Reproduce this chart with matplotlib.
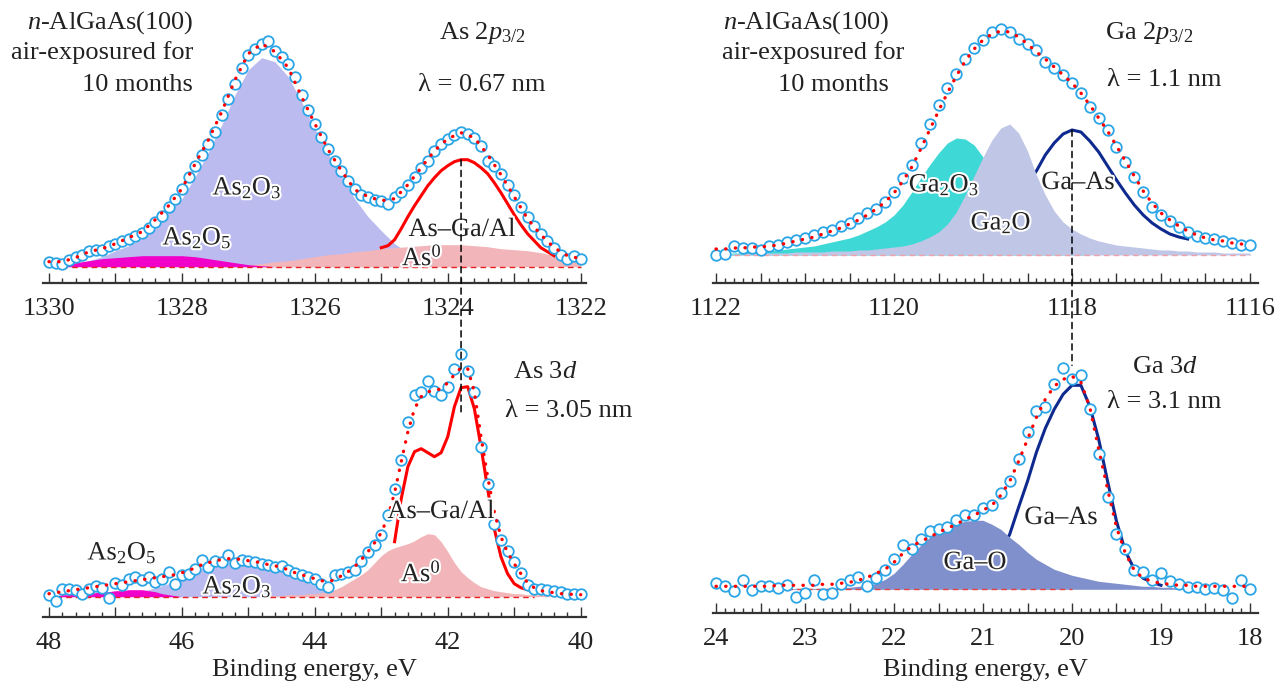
import numpy as np
import matplotlib
matplotlib.use('Agg')
import matplotlib.pyplot as plt
import matplotlib.patheffects as pe
from matplotlib.ticker import MultipleLocator, FuncFormatter
from matplotlib.patches import ConnectionPatch

plt.rcParams['font.family'] = ['Liberation Serif', 'DejaVu Serif']
plt.rcParams['mathtext.fontset'] = 'custom'
plt.rcParams['mathtext.rm'] = 'Liberation Serif'
plt.rcParams['mathtext.it'] = 'Liberation Serif:italic'
plt.rcParams['mathtext.bf'] = 'Liberation Serif:bold'


def grid(a, b, step):
    # descending energy grid, both ends included
    return np.round(np.arange(a, b - step / 2, -step), 2)


# ---------------- As 2p3/2 (top left), intensities in a.u. above background
e_as2p = grid(1330.0, 1322.0, 0.1)
as2p_exp = [5, 4, 3, 7, 10, 12, 16, 17, 17, 21,
            23, 26, 28, 31, 34, 39, 45, 51, 60, 68,
            78, 90, 101, 112, 123, 135, 152, 168, 183, 199,
            212, 218, 223, 226, 216, 210, 203, 190, 172, 157,
            143, 130, 118, 106, 96, 86, 78, 72, 70, 67,
            66, 63, 70, 75, 82, 90, 99, 106, 116, 123,
            128, 132, 135, 133, 129, 121, 106, 101, 93, 82,
            72, 60, 50, 41, 33, 26, 19, 12, 8, 11,
            8]
e_as2p_c = grid(1330.0, 1322.0, 0.2)
as2p_fit = [5, 5, 9, 15, 18, 23, 29, 35, 47, 61,
            78, 103, 127, 155, 187, 213, 223, 215, 199, 170,
            143, 117, 96, 77, 70, 66, 68, 82, 99, 116,
            128, 134, 129, 112, 92, 70, 48, 32, 19, 11,
            8]
as2p_as2o3 = [0, 1, 3, 6, 10, 16, 21, 28, 38, 55,
              68, 90, 115, 142, 172, 197, 209, 205, 190, 165,
              138, 113, 90, 68, 50, 36, 23, 14, 8, 4,
              2, 1, 0, 0, 0, 0, 0, 0, 0, 0,
              0]
as2p_as2o5 = [0, 2, 4, 6, 8, 9, 10, 11, 11, 11,
              11, 10, 8, 6, 4, 2, 1, 0, 0, 0,
              0, 0, 0, 0, 0, 0, 0, 0, 0, 0,
              0, 0, 0, 0, 0, 0, 0, 0, 0, 0,
              0]
as2p_as0 = [0, 0, 0, 0, 0, 0, 0, 0, 0, 0,
            0, 0, 0, 0, 1, 2, 3, 5, 6, 8,
            10, 12, 13, 15, 16, 18, 19, 20, 21, 22,
            22, 22, 21, 20, 18, 17, 16, 14, 11, 7,
            4]
e_as2p_asga = grid(1325.0, 1322.4, 0.1)
as2p_asga = [19, 21, 27, 38, 50, 61, 71, 81, 89, 96,
             101, 105, 107, 107, 104, 99, 93, 84, 74, 63,
             52, 42, 33, 26, 19, 15, 11]

# ---------------- As 3d (bottom left)
e_as3d = grid(48.0, 40.0, 0.1)
as3d_exp = [2, -4, 8, 8, 7, 3, 8, 11, 9, -1,
            14, 12, 18, 20, 17, 20, 15, 18, 25, 13,
            22, 23, 28, 37, 30, 36, 35, 42, 34, 37,
            36, 35, 33, 32, 30, 31, 27, 24, 22, 20,
            18, 13, 10, 22, 23, 25, 27, 36, 45, 52,
            62, 82, 108, 137, 175, 202, 205, 216, 206, 202,
            210, 228, 243, 226, 205, 150, 113, 73, 57, 46,
            35, 24, 12, 8, 8, 7, 6, 5, 3, 3,
            3]
as3d_fit = [3, 4, 5, 6, 7, 8, 9, 10, 11, 12,
            13, 14, 15, 16, 17, 18, 19, 20, 21, 22,
            24, 26, 29, 32, 34, 36, 37, 38, 38, 37,
            36, 35, 34, 32, 31, 29, 27, 24, 22, 20,
            18, 16, 15, 17, 21, 25, 30, 37, 45, 54,
            64, 80, 104, 135, 165, 188, 200, 205, 206, 208,
            214, 222, 229, 228, 205, 160, 120, 85, 60, 44,
            33, 23, 14, 9, 6, 5, 4, 3, 3, 2,
            2]
as3d_as2o3 = [0, 0, 1, 1, 1, 1, 2, 2, 2, 3,
              3, 4, 4, 5, 6, 7, 9, 11, 13, 16,
              19, 22, 25, 28, 30, 32, 33, 34, 34, 34,
              33, 32, 31, 29, 27, 25, 22, 20, 17, 14,
              11, 8, 6, 4, 3, 2, 1, 1, 0, 0,
              0, 0, 0, 0, 0, 0, 0, 0, 0, 0,
              0, 0, 0, 0, 0, 0, 0, 0, 0, 0,
              0, 0, 0, 0, 0, 0, 0, 0, 0, 0,
              0]
as3d_as2o5 = [0, 1, 2, 2, 3, 3, 4, 4, 5, 5,
              6, 6, 7, 7, 7, 6, 5, 3, 2, 1,
              0, 0, 0, 0, 0, 0, 0, 0, 0, 0,
              0, 0, 0, 0, 0, 0, 0, 0, 0, 0,
              0, 0, 0, 0, 0, 0, 0, 0, 0, 0,
              0, 0, 0, 0, 0, 0, 0, 0, 0, 0,
              0, 0, 0, 0, 0, 0, 0, 0, 0, 0,
              0, 0, 0, 0, 0, 0, 0, 0, 0, 0,
              0]
as3d_as0 = [0, 0, 0, 0, 0, 0, 0, 0, 0, 0,
            0, 0, 0, 0, 0, 0, 0, 0, 0, 0,
            0, 0, 0, 0, 0, 0, 0, 0, 0, 0,
            0, 0, 0, 1, 1, 1, 2, 2, 2, 3,
            3, 4, 5, 7, 10, 14, 18, 22, 27, 34,
            41, 46, 49, 51, 53, 56, 60, 63, 62, 55,
            45, 34, 25, 19, 14, 10, 8, 6, 5, 4,
            3, 3, 2, 2, 2, 1, 1, 1, 1, 1,
            1]
e_as3d_asga = grid(42.8, 40.8, 0.1)
as3d_asga = [55, 98, 130, 145, 148, 144, 140, 144, 160, 190,
             209, 210, 188, 150, 108, 68, 40, 23, 13, 9,
             7]

# ---------------- Ga 2p3/2 (top right)
e_ga2p = grid(1122.0, 1116.0, 0.1)
ga2p_exp = [0, 1, 9, 7, 7, 5, 9, 10, 13, 15,
            17, 20, 23, 25, 29, 32, 37, 42, 46, 53,
            63, 77, 90, 112, 131, 150, 167, 181, 196, 207,
            215, 223, 226, 223, 216, 211, 205, 193, 187, 180,
            172, 162, 148, 137, 125, 108, 93, 78, 63, 48,
            40, 34, 28, 23, 19, 17, 16, 14, 12, 10,
            10]
ga2p_fit = [6, 6, 7, 7, 8, 8, 9, 10, 12, 14,
            16, 18, 21, 24, 27, 31, 35, 40, 46, 53,
            62, 74, 88, 106, 125, 144, 162, 179, 194, 206,
            215, 221, 224, 223, 218, 211, 203, 196, 188, 180,
            172, 162, 150, 137, 124, 109, 94, 79, 64, 52,
            42, 35, 29, 24, 20, 17, 15, 14, 12, 11,
            10]
ga2p_ga2o3 = [1, 1, 2, 2, 3, 3, 4, 5, 6, 7,
              8, 9, 11, 13, 15, 17, 20, 24, 28, 33,
              40, 50, 63, 77, 90, 102, 112, 117, 116, 110,
              98, 84, 68, 52, 38, 26, 17, 10, 6, 3,
              2, 1, 0, 0, 0, 0, 0, 0, 0, 0,
              0, 0, 0, 0, 0, 0, 0, 0, 0, 0,
              0]
ga2p_ga2o = [1, 1, 1, 1, 2, 2, 2, 2, 2, 3,
             3, 3, 3, 4, 4, 4, 5, 5, 6, 7,
             8, 9, 11, 14, 18, 23, 31, 43, 60, 79,
             98, 115, 127, 131, 122, 104, 80, 60, 44, 33,
             26, 21, 17, 14, 12, 10, 9, 8, 7, 6,
             5, 5, 4, 4, 3, 3, 3, 2, 2, 2,
             2]
e_ga2p_gaas = grid(1118.6, 1116.7, 0.1)
ga2p_gaas = [60, 72, 84, 100, 112, 121, 125, 123, 114, 103,
             89, 75, 62, 50, 40, 32, 26, 21, 18, 16]

# ---------------- Ga 3d (bottom right)
e_ga3d = grid(24.0, 18.0, 0.1)
ga3d_exp = [6, 3, -2, 9, -1, 3, 3, 1, 4, -8,
            -4, 9, -5, -4, 5, 9, 12, 3, 11, 19,
            30, 44, 40, 50, 58, 60, 62, 69, 74, 74,
            81, 84, 96, 108, 130, 157, 178, 182, 205, 221,
            210, 214, 180, 135, 92, 55, 40, 19, 17, 9,
            16, 8, 5, 2, 2, 0, 1, -1, -9, 9,
            0]
ga3d_fit = [3, 3, 3, 3, 3, 3, 3, 4, 4, 4,
            4, 4, 5, 5, 6, 7, 9, 12, 16, 20,
            27, 36, 43, 48, 52, 57, 61, 65, 70, 74,
            79, 84, 94, 108, 128, 150, 172, 190, 203, 210,
            213, 207, 182, 140, 100, 62, 36, 19, 11, 8,
            6, 5, 4, 4, 3, 3, 3, 3, 3, 3,
            3]
ga3d_gao = [0, 0, 0, 0, 0, 0, 0, 0, 0, 1,
            1, 1, 1, 1, 2, 2, 3, 4, 6, 10,
            16, 25, 35, 44, 52, 58, 63, 66, 68, 69,
            69, 65, 60, 52, 45, 37, 30, 25, 20, 17,
            14, 12, 10, 8, 7, 6, 5, 4, 3, 3,
            2, 2, 1, 0, 0, 0, 0, 0, 0, 0,
            0]
e_ga3d_gaas = grid(21.0, 19.0, 0.1)
ga3d_gaas = [20, 28, 38, 55, 82, 108, 137, 161, 180, 195,
             204, 204, 183, 150, 108, 68, 38, 20, 11, 7,
             4]

# ---------------- colours
C_EXP = '#2ba5e6'
C_AS2O3 = '#bbbbf0'
C_AS2O5 = '#f000c8'
C_AS0 = '#f2b5b9'
C_GA2O3 = '#3ed8d6'
C_GA2O = '#c0c7e6'
C_GAO = '#8090cc'
C_NAVY = '#0f2a8e'
C_TXT = '#222222'

W, H = 1286, 686
fig = plt.figure(figsize=(W / 100, H / 100), dpi=100)


def make_axes(left, right, top, spine, base, xlim, major, minor, every):
    ax = fig.add_axes([left / W, 1 - spine / H, (right - left) / W, (spine - top) / H])
    ax.set_ylim(-(spine - base), base - top)
    ax.set_xlim(*xlim)
    ax.patch.set_alpha(0)
    for s in ['left', 'right', 'top']:
        ax.spines[s].set_visible(False)
    ax.spines['bottom'].set_linewidth(1.6)
    ax.spines['bottom'].set_color('#333333')
    ax.yaxis.set_visible(False)
    ax.xaxis.set_major_locator(MultipleLocator(major))
    ax.xaxis.set_minor_locator(MultipleLocator(minor))
    ax.xaxis.set_major_formatter(FuncFormatter(
        lambda v, p: f'{v:.0f}' if abs(v / every - round(v / every)) < 1e-6 else ''))
    ax.tick_params(axis='x', which='both', direction='in', color='#333333',
                   width=1.0, labelsize=19, pad=11, labelcolor=C_TXT)
    ax.tick_params(axis='x', which='major', length=7.5)
    ax.tick_params(axis='x', which='minor', length=3.6)
    return ax


def points(ax, e, exp, e_fit, fit):
    ax.plot(e, exp, 'o', ms=7.6, mfc='white', mec=C_EXP, mew=1.3, zorder=5, clip_on=False)
    ax.plot(e_fit, fit, color='red', lw=2.4, ls=(0, (0.1, 2.8)),
            dash_capstyle='round', zorder=6)


def ftext(x, y, s, ha='center', size=19, halo=False, **kw):
    effects = [pe.withStroke(linewidth=3, foreground='white')] if halo else None
    fig.text(x / W, 1 - y / H, s, ha=ha, va='center', fontsize=size,
             color=C_TXT, path_effects=effects, **kw)


# As 2p3/2
ax1 = make_axes(43, 586, 15, 283, 266.7, (1330.09, 1321.92), 1, 0.2, 2)
ax1.fill_between(e_as2p_c, 0, as2p_as2o3, color=C_AS2O3, lw=0, zorder=1)
ax1.fill_between(e_as2p_c, 0, as2p_as0, color=C_AS0, lw=0, zorder=2)
ax1.fill_between(e_as2p_c, 0, as2p_as2o5, color=C_AS2O5, lw=0, zorder=3)
ax1.plot(e_as2p_asga, as2p_asga, color='red', lw=2.2, zorder=4)
ax1.hlines(0, e_as2p[2], e_as2p[-1], color='#e82020', lw=1.0, ls=(0, (4, 3)), zorder=4)
points(ax1, e_as2p, as2p_exp, e_as2p_c, as2p_fit)

# Ga 2p3/2
ax2 = make_axes(713, 1258, 15, 283, 255, (1122.034, 1115.91), 0.5, 0.1, 2)
ax2.fill_between(e_ga2p, 0, ga2p_ga2o3, color=C_GA2O3, lw=0, zorder=1)
ax2.plot(e_ga2p_gaas, ga2p_gaas, color=C_NAVY, lw=2.2, zorder=1.5)
ax2.fill_between(e_ga2p, 0, ga2p_ga2o, color=C_GA2O, lw=0, zorder=2)
ax2.hlines(0, e_ga2p[2], e_ga2p[-1], color='#f0a0a8', lw=1.0, ls=(0, (4, 3)), zorder=3)
points(ax2, e_ga2p, ga2p_exp, e_ga2p, ga2p_fit)

# As 3d
ax3 = make_axes(43, 586, 340, 617, 596.7, (48.09, 39.92), 1, 0.2, 2)
ax3.fill_between(e_as3d, 0, as3d_as2o3, color=C_AS2O3, lw=0, zorder=1)
ax3.fill_between(e_as3d, 0, as3d_as2o5, color=C_AS2O5, lw=0, zorder=2)
ax3.fill_between(e_as3d, 0, as3d_as0, color=C_AS0, lw=0, zorder=2)
ax3.plot(e_as3d_asga, as3d_asga, color='red', lw=2.2, zorder=4)
ax3.hlines(0, e_as3d[1], e_as3d[-8], color='#e82020', lw=1.0, ls=(0, (4, 3)), zorder=4)
points(ax3, e_as3d, as3d_exp, e_as3d, as3d_fit)
ax3.set_xlabel('Binding energy, eV', fontsize=19, color=C_TXT)
ax3.xaxis.set_label_coords(0.5, -(670 - 617) / 277)
ax3.xaxis.label.set_va('center')

# Ga 3d
ax4 = make_axes(713, 1258, 340, 613, 589.3, (24.034, 17.91), 0.5, 0.1, 1)
ax4.plot(e_ga3d_gaas, ga3d_gaas, color=C_NAVY, lw=2.2, zorder=1.5)
ax4.fill_between(e_ga3d, 0, ga3d_gao, color=C_GAO, lw=0, zorder=2)
ax4.hlines(0, e_ga3d[8], e_ga3d[-21], color='#e84040', lw=1.0, ls=(0, (4, 3)), zorder=3)
points(ax4, e_ga3d, ga3d_exp, e_ga3d, ga3d_fit)
ax4.set_xlabel('Binding energy, eV', fontsize=19, color=C_TXT)
ax4.xaxis.set_label_coords(0.5, -(670 - 613) / 273)
ax4.xaxis.label.set_va('center')

# vertical dashed guide lines through the substrate peaks
for axa, pa, axb, pb in [(ax1, (e_as2p_asga[12], as2p_asga[12]), ax3, (e_as3d_asga[10], 182)),
                         (ax2, (e_ga2p_gaas[6], ga2p_gaas[6]), ax4, (e_ga3d_gaas[10], 224))]:
    con = ConnectionPatch(xyA=pa, coordsA=axa.transData, xyB=pb, coordsB=axb.transData,
                          color='black', lw=1.1, ls=(0, (4, 3)), zorder=10)
    fig.add_artist(con)

# annotations
for xs in [(193, 193, 193), (889, 904, 889)]:
    ftext(xs[0], 23, '$n$-AlGaAs(100)', ha='right')
    ftext(xs[1], 53, 'air-exposured for', ha='right')
    ftext(xs[2], 85, '10 months', ha='right')

ftext(482, 33, 'As 2$p_{3/2}$')
ftext(482, 85, 'λ = 0.67 nm')
ftext(1105, 33, 'Ga 2$p_{3/2}$', ha='left')
ftext(1107, 80, 'λ = 1.1 nm', ha='left')
ftext(513, 372, 'As 3$d$', ha='left')
ftext(505, 411, 'λ = 3.05 nm', ha='left')
ftext(1132, 367, 'Ga 3$d$', ha='left')
ftext(1107, 402, 'λ = 3.1 nm', ha='left')

ftext(247, 188, 'As$_2$O$_3$', halo=True)
ftext(197, 238, 'As$_2$O$_5$', halo=True)
ftext(462, 230, 'As–Ga/Al', halo=True)
ftext(422, 257, 'As$^0$', halo=True)
ftext(122, 553, 'As$_2$O$_5$', halo=True)
ftext(237, 587, 'As$_2$O$_3$', halo=True)
ftext(441, 512, 'As–Ga/Al', halo=True)
ftext(421, 573, 'As$^0$', halo=True)
ftext(944, 185, 'Ga$_2$O$_3$', halo=True)
ftext(1001, 223, 'Ga$_2$O', halo=True)
ftext(1078, 183, 'Ga–As', halo=True)
ftext(1061, 518, 'Ga–As', halo=True)
ftext(975, 563, 'Ga–O', halo=True)

fig.savefig('out.png', dpi=100, facecolor='white')
